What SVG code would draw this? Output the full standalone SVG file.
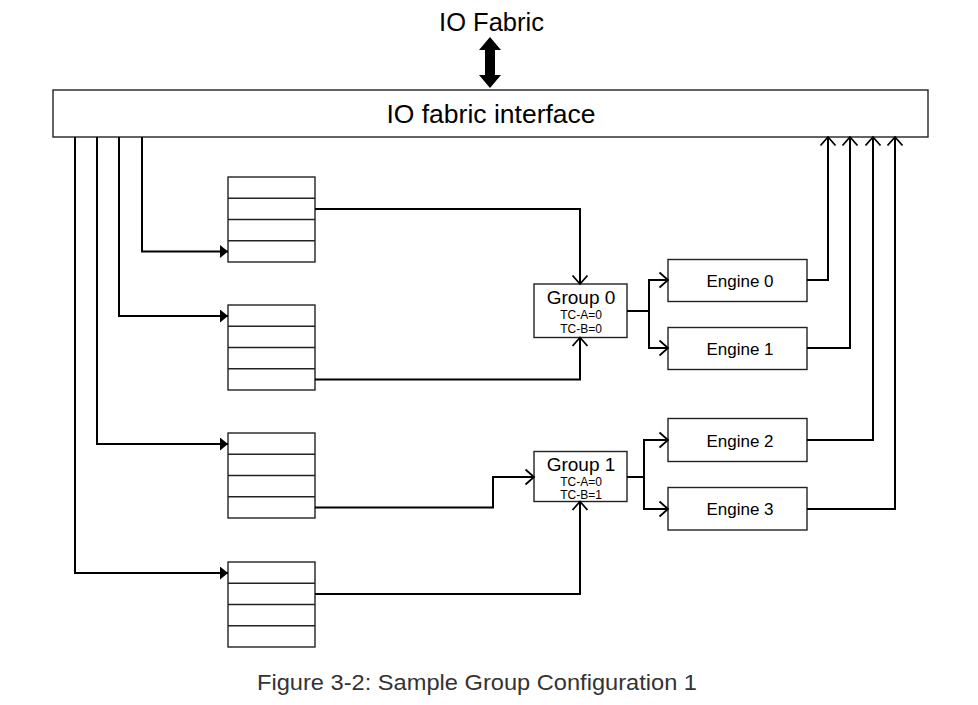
<svg xmlns="http://www.w3.org/2000/svg" width="978" height="705" viewBox="0 0 978 705">
<defs>
<style>
.box{fill:#fff;stroke:#222;stroke-width:1.4}
.row{stroke:#222;stroke-width:1.4}
.conn{fill:none;stroke:#000;stroke-width:2}
.t{font-family:"Liberation Sans",Arial,sans-serif;fill:#000;text-anchor:middle}
</style>
<marker id="fill" markerUnits="userSpaceOnUse" markerWidth="12" markerHeight="16" refX="8" refY="6.5" orient="auto" viewBox="0 0 12 16">
<path d="M0,0 L8,6.5 L0,13 Z" fill="#000"/>
</marker>
<marker id="open" markerUnits="userSpaceOnUse" markerWidth="14" markerHeight="20" refX="10" refY="9" orient="auto" viewBox="0 0 14 20">
<path d="M1.5,1.5 L10,9 L1.5,16.5" fill="none" stroke="#000" stroke-width="1.8"/>
</marker>
</defs>
<rect width="978" height="705" fill="#fff"/>

<g id="io-fabric">
<text class="t" x="491.5" y="31" font-size="25.5">IO Fabric</text>
<path d="M490,37 L501,50 L495,50 L495,75 L501,75 L490,88 L479,75 L485,75 L485,50 L479,50 Z" fill="#000"/>
</g>

<g id="io-fabric-interface">
<rect class="box" x="53" y="90" width="875" height="47"/>
<text class="t" x="491" y="123" font-size="26.5">IO fabric interface</text>
</g>

<g id="queue0">
<rect class="box" x="228" y="177" width="87" height="85"/>
<line class="row" x1="228" y1="198.25" x2="315" y2="198.25"/>
<line class="row" x1="228" y1="219.5" x2="315" y2="219.5"/>
<line class="row" x1="228" y1="240.75" x2="315" y2="240.75"/>
</g>
<g id="queue1">
<rect class="box" x="228" y="305" width="87" height="85"/>
<line class="row" x1="228" y1="326.25" x2="315" y2="326.25"/>
<line class="row" x1="228" y1="347.5" x2="315" y2="347.5"/>
<line class="row" x1="228" y1="368.75" x2="315" y2="368.75"/>
</g>
<g id="queue2">
<rect class="box" x="228" y="433" width="87" height="85"/>
<line class="row" x1="228" y1="454.25" x2="315" y2="454.25"/>
<line class="row" x1="228" y1="475.5" x2="315" y2="475.5"/>
<line class="row" x1="228" y1="496.75" x2="315" y2="496.75"/>
</g>
<g id="queue3">
<rect class="box" x="228" y="562" width="87" height="85"/>
<line class="row" x1="228" y1="583.25" x2="315" y2="583.25"/>
<line class="row" x1="228" y1="604.5" x2="315" y2="604.5"/>
<line class="row" x1="228" y1="625.75" x2="315" y2="625.75"/>
</g>

<g id="group0">
<rect class="box" x="534" y="284" width="93" height="53.5"/>
<text class="t" x="581" y="304" font-size="19">Group 0</text>
<text class="t" x="581" y="319" font-size="12">TC-A=0</text>
<text class="t" x="581" y="332.5" font-size="12">TC-B=0</text>
</g>
<g id="group1">
<rect class="box" x="534" y="451.5" width="93" height="50"/>
<text class="t" x="581" y="471" font-size="19">Group 1</text>
<text class="t" x="581" y="486" font-size="12">TC-A=0</text>
<text class="t" x="581" y="499" font-size="12">TC-B=1</text>
</g>

<g id="engine0">
<rect class="box" x="668" y="259.5" width="139" height="42"/>
<text class="t" x="740" y="287" font-size="17">Engine 0</text>
</g>
<g id="engine1">
<rect class="box" x="668" y="327.5" width="139" height="42"/>
<text class="t" x="740" y="355" font-size="17">Engine 1</text>
</g>
<g id="engine2">
<rect class="box" x="668" y="418.5" width="139" height="43"/>
<text class="t" x="740" y="446.5" font-size="17">Engine 2</text>
</g>
<g id="engine3">
<rect class="box" x="668" y="487.5" width="139" height="42.5"/>
<text class="t" x="740" y="515" font-size="17">Engine 3</text>
</g>

<g id="connectors">
<polyline class="conn" points="142,137 142,251.5 228,251.5" marker-end="url(#fill)"/>
<polyline class="conn" points="119,137 119,316 228,316" marker-end="url(#fill)"/>
<polyline class="conn" points="97,137 97,444 228,444" marker-end="url(#fill)"/>
<polyline class="conn" points="75,137 75,573 228,573" marker-end="url(#fill)"/>

<polyline class="conn" points="315,209 580,209 580,284" marker-end="url(#open)"/>
<polyline class="conn" points="315,379.5 580,379.5 580,337.5" marker-end="url(#open)"/>
<polyline class="conn" points="315,507.5 493,507.5 493,477 534,477" marker-end="url(#open)"/>
<polyline class="conn" points="315,594 580,594 580,501.5" marker-end="url(#open)"/>

<polyline class="conn" points="627,311 649,311 649,280 668,280" marker-end="url(#open)"/>
<polyline class="conn" points="649,311 649,348 668,348" marker-end="url(#open)"/>
<polyline class="conn" points="627,477 644,477 644,440 668,440" marker-end="url(#open)"/>
<polyline class="conn" points="644,477 644,509 668,509" marker-end="url(#open)"/>

<polyline class="conn" points="807,280 828,280 828,137" marker-end="url(#open)"/>
<polyline class="conn" points="807,348 850,348 850,137" marker-end="url(#open)"/>
<polyline class="conn" points="807,440 873,440 873,137" marker-end="url(#open)"/>
<polyline class="conn" points="807,509 895,509 895,137" marker-end="url(#open)"/>
</g>

<text class="t" x="477" y="690" font-size="22" textLength="440" lengthAdjust="spacingAndGlyphs" style="fill:#333">Figure 3-2: Sample Group Configuration 1</text>
</svg>
